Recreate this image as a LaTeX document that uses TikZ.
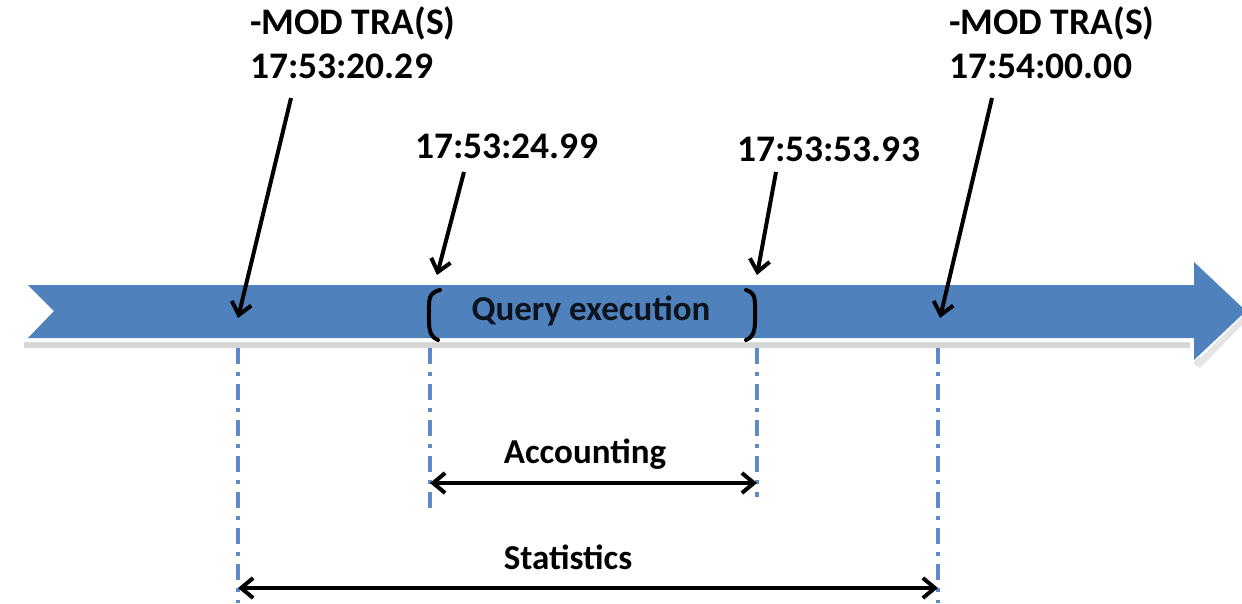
\documentclass[tikz,border=0pt]{standalone}
\usepackage{fontspec}
\setmainfont{Carlito}
\usetikzlibrary{arrows.meta}
\definecolor{band}{HTML}{4F81BD}
\definecolor{guide}{HTML}{5B8BC9}
\tikzset{
  lbl/.style={font=\bfseries\fontsize{37.5}{44}\selectfont, text=black, inner sep=0pt, align=left},
  lbl2/.style={font=\bfseries\fontsize{35}{40}\selectfont, text=black, inner sep=0pt},
  pointer/.style={draw=black, line width=4pt, -{Straight Barb[length=12pt,width=20pt,line width=4pt]}},
  span/.style={draw=black, line width=4pt, {Straight Barb[length=12pt,width=20pt,line width=4pt]}-{Straight Barb[length=12pt,width=20pt,line width=4pt]}},
  guideline/.style={draw=guide, line width=3.6pt, dash pattern=on 16pt off 8pt on 4pt off 8pt},
  brk/.style={draw=black, line width=4pt, line cap=round}
}
\begin{document}
\begin{tikzpicture}[x=1pt,y=-1pt]
\useasboundingbox (0,0) rectangle (1242,603);
% shadow of band
\fill[black!16] (24,342) -- (1194,342) -- (1194,364) -- (1200,364) -- (1200,348) -- (24,348) -- cycle;
\fill[black!10] (1194,364) -- (1246,313) -- (1246,321) -- (1200,368) -- cycle;
% timeline band with white rim
\fill[white] (16,281) -- (1190,281) -- (1190,256) -- (1248,311) -- (1190,366) -- (1190,342) -- (16,342) -- (46,311) -- cycle;
\fill[band] (28,285) -- (1194,285) -- (1194,262) -- (1246,311) -- (1194,360) -- (1194,338) -- (28,338) -- (54,311) -- cycle;
% markers
\coordinate (m1) at (238,318);
\coordinate (m2) at (437,275);
\coordinate (m3) at (757,275);
\coordinate (m4) at (940,318);
\coordinate (s1) at (291,98);
\coordinate (s2) at (464,172);
\coordinate (s3) at (776,172);
\coordinate (s4) at (992,98);
% labels
\node[lbl, anchor=north west] (t1) at (250,6) {-MOD TRA(S)\\17:53:20.29};
\node[lbl, anchor=north west] (t4) at (949,6) {-MOD TRA(S)\\17:54:00.00};
\node[lbl, anchor=base west] (t2) at (415,158) {17:53:24.99};
\node[lbl, anchor=base west] (t3) at (737,161) {17:53:53.93};
\node[lbl2, text=black!85!band] (q) at (591,311) {Query execution};
% pointer arrows
\draw[pointer] (s1) -- (m1);
\draw[pointer] (s2) -- (m2);
\draw[pointer] (s3) -- (m3);
\draw[pointer] (s4) -- (m4);
% brackets
\draw[brk] (440,290) .. controls (428,293) and (429,300) .. (429,312) .. controls (429,326) and (428,336) .. (438,340);
\draw[brk] (746,290) .. controls (756,293) and (755,300) .. (755,312) .. controls (755,326) and (756,336) .. (746,340);
% guide lines
\coordinate (g1t) at (238,348); \coordinate (g1b) at (238,603);
\coordinate (g2t) at (430,348); \coordinate (g2b) at (430,515);
\coordinate (g3t) at (757,348); \coordinate (g3b) at (757,497);
\coordinate (g4t) at (938,348); \coordinate (g4b) at (938,603);
\draw[guideline] (g1t) -- (g1b);
\draw[guideline] (g2t) -- (g2b);
\draw[guideline] (g3t) -- (g3b);
\draw[guideline] (g4t) -- (g4b);
% spans
\coordinate (a1) at (430,483); \coordinate (a2) at (757,483);
\coordinate (b1) at (238,588); \coordinate (b2) at (938,588);
\draw[span] (a1) -- (a2);
\draw[span] (b1) -- (b2);
\node[lbl2] (acc) at (585,454) {Accounting};
\node[lbl2] (stat) at (568,557) {Statistics};
\end{tikzpicture}
\end{document}
